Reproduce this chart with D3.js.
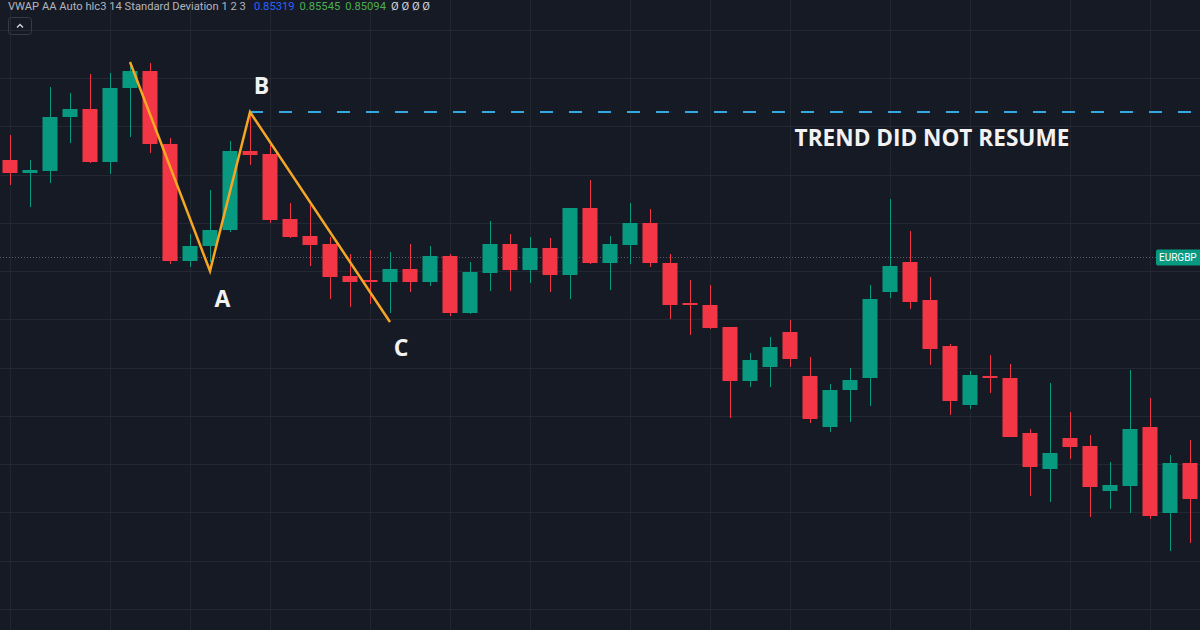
<!DOCTYPE html>
<html><head><meta charset="utf-8">
<script src="https://cdn.jsdelivr.net/npm/d3@7/dist/d3.min.js"></script>
<style>
html,body{margin:0;padding:0;background:#161a25;overflow:hidden;}
svg{display:block;}
</style></head><body>
<svg id="chart" width="1200" height="630"></svg>
<script>
// ---------- DATA ----------
const bars = d3.range(60); // candle index (category)
const opens  = [0.85417,0.85404,0.85406,0.85460,0.85468,0.85415,0.85489,0.85506,0.85433,0.85316,
                0.85331,0.85347,0.85426,0.85423,0.85358,0.85341,0.85333,0.85301,0.85297,0.85295,
                0.85308,0.85295,0.85321,0.85264,0.85304,0.85333,0.85307,0.85329,0.85302,0.85369,
                0.85314,0.85332,0.85354,0.85314,0.85274,0.85272,0.85250,0.85196,0.85210,0.85245,
                0.85201,0.85150,0.85187,0.85199,0.85285,0.85315,0.85277,0.85231,0.85172,0.85201,
                0.85199,0.85144,0.85108,0.85139,0.85131,0.85086,0.85091,0.85150,0.85064,0.85114];
const highs  = [0.85442,0.85417,0.85490,0.85484,0.85503,0.85504,0.85511,0.85514,0.85439,0.85343,
                0.85387,0.85436,0.85464,0.85432,0.85374,0.85372,0.85340,0.85323,0.85327,0.85325,
                0.85333,0.85331,0.85323,0.85315,0.85356,0.85343,0.85340,0.85339,0.85369,0.85397,
                0.85341,0.85374,0.85368,0.85323,0.85297,0.85292,0.85250,0.85224,0.85240,0.85257,
                0.85220,0.85193,0.85209,0.85292,0.85378,0.85346,0.85300,0.85233,0.85206,0.85222,
                0.85213,0.85148,0.85194,0.85165,0.85142,0.85115,0.85207,0.85179,0.85122,0.85137];
const lows   = [0.85392,0.85370,0.85394,0.85434,0.85414,0.85403,0.85440,0.85424,0.85313,0.85310,
                0.85315,0.85345,0.85412,0.85354,0.85339,0.85311,0.85278,0.85270,0.85273,0.85264,
                0.85285,0.85291,0.85261,0.85263,0.85286,0.85286,0.85294,0.85285,0.85278,0.85313,
                0.85287,0.85313,0.85310,0.85258,0.85242,0.85248,0.85159,0.85190,0.85190,0.85210,
                0.85154,0.85145,0.85155,0.85171,0.85279,0.85268,0.85212,0.85162,0.85168,0.85184,
                0.85140,0.85081,0.85075,0.85118,0.85060,0.85068,0.85064,0.85058,0.85026,0.85034];
const closes = [0.85404,0.85407,0.85460,0.85468,0.85415,0.85489,0.85506,0.85433,0.85316,0.85331,
                0.85347,0.85426,0.85422,0.85357,0.85340,0.85332,0.85300,0.85295,0.85295,0.85308,
                0.85295,0.85321,0.85264,0.85305,0.85333,0.85307,0.85329,0.85302,0.85369,0.85314,
                0.85333,0.85354,0.85314,0.85272,0.85272,0.85249,0.85196,0.85217,0.85230,0.85218,
                0.85158,0.85187,0.85197,0.85278,0.85311,0.85275,0.85228,0.85176,0.85202,0.85199,
                0.85140,0.85110,0.85124,0.85130,0.85090,0.85092,0.85148,0.85061,0.85114,0.85078];

// horizontal grid prices and vertical grid bar indices (time ticks)
const gridPrices = [0.85547,0.85499,0.85451,0.85402,0.85354,0.85306,0.85258,0.85209,0.85161,0.85113,0.85065,0.85016,0.84968];
const gridBars = [0,5,9,13,18,22,26,31,35,39,44,48,53,57];

// ABC swing annotation (bar index, price, label)
const swingBars   = [6, 10, 12, 19];
const swingPrices = [0.85515, 0.85306, 0.85465, 0.85255];
const swingLabels = ["", "A", "B", "C"];
const levelPrice = 0.85465;          // B level (dashed)
const levelText = "TREND DID NOT RESUME";
const lastPrice = 0.85320;
const symbol = "EURGBP";

const headerTitle = "VWAP AA Auto hlc3 14 Standard Deviation 1 2 3";
const headerValues = ["0.85319", "0.85545", "0.85094", "Ø Ø Ø Ø"];

// ---------- RENDER ----------
const W = 1200, H = 630;
const svg = d3.select("#chart");
const BG = "#161a25", GRID = "#22262f", UP = "#089981", DOWN = "#f23645";

const x = d3.scaleBand().domain(bars).range([0, W]).paddingInner(0.25).paddingOuter(0.125);
const bw = x.bandwidth();
const xc = i => x(i) + bw / 2;
const y = d3.scaleLinear().domain([0.84947, 0.85577]).range([H, 0]);

svg.append("rect").attr("width", W).attr("height", H).attr("fill", BG);

// grid
svg.append("g").selectAll("line").data(gridBars).join("line")
  .attr("x1", d => Math.round(xc(d)) + 0.5).attr("x2", d => Math.round(xc(d)) + 0.5)
  .attr("y1", 0).attr("y2", H).attr("stroke", GRID).attr("stroke-width", 1);
svg.append("g").selectAll("line").data(gridPrices).join("line")
  .attr("x1", 0).attr("x2", W)
  .attr("y1", d => Math.round(y(d)) + 0.5).attr("y2", d => Math.round(y(d)) + 0.5)
  .attr("stroke", "#242833").attr("stroke-width", 1);

// last price dotted line
svg.append("line")
  .attr("x1", 0).attr("x2", W).attr("y1", Math.round(y(lastPrice)) + 0.5).attr("y2", Math.round(y(lastPrice)) + 0.5)
  .attr("stroke", "#5a5e69").attr("stroke-width", 1).attr("stroke-dasharray", "1,2");

// candles
const candles = svg.append("g").selectAll("g").data(bars).join("g");
const col = i => closes[i] >= opens[i] ? UP : DOWN;
candles.append("line")
  .attr("x1", i => Math.round(xc(i)) + 0.5).attr("x2", i => Math.round(xc(i)) + 0.5)
  .attr("y1", i => y(highs[i])).attr("y2", i => y(lows[i]))
  .attr("stroke", col).attr("stroke-width", 1);
candles.append("rect")
  .attr("x", i => x(i)).attr("width", bw)
  .attr("y", i => y(Math.max(opens[i], closes[i])))
  .attr("height", i => Math.max(1.5, Math.abs(y(opens[i]) - y(closes[i]))))
  .attr("fill", col);

// dashed B level
svg.append("line")
  .attr("x1", xc(swingBars[2])).attr("x2", W)
  .attr("y1", y(levelPrice)).attr("y2", y(levelPrice))
  .attr("stroke", "#33a9e2").attr("stroke-width", 2.2).attr("stroke-dasharray", "13,16");

// swing polyline
const pts = swingBars.map((b, k) => [xc(b), y(swingPrices[k])]);
svg.append("path").attr("d", d3.line()(pts))
  .attr("fill", "none").attr("stroke", "#f5a623").attr("stroke-width", 2.5)
  .attr("stroke-linejoin", "miter").attr("stroke-linecap", "butt");

// swing labels
const labelOffset = { A: [12.5, 35.5], B: [11.5, -18], C: [11, 34] };
svg.append("g").selectAll("text").data(swingBars.map((b, k) => k).filter(k => swingLabels[k]))
  .join("text")
  .attr("x", k => xc(swingBars[k]) + labelOffset[swingLabels[k]][0])
  .attr("y", k => y(swingPrices[k]) + labelOffset[swingLabels[k]][1])
  .attr("text-anchor", "middle")
  .attr("font-family", "'Open Sans', sans-serif").attr("font-weight", 700).attr("font-size", 23)
  .attr("fill", "#f2f2f2")
  .text(k => swingLabels[k]);

svg.append("text")
  .attr("x", xc(46) + 2).attr("y", y(levelPrice) + 34)
  .attr("text-anchor", "middle")
  .attr("font-family", "'Open Sans', sans-serif").attr("font-weight", 700).attr("font-size", 22.6)
  .attr("fill", "#f2f2f2")
  .text(levelText);

// symbol label
const ly = y(lastPrice);
svg.append("rect").attr("x", 1156).attr("y", ly - 7.5).attr("width", 46).attr("height", 16)
  .attr("rx", 2).attr("fill", UP);
svg.append("text").attr("x", 1159).attr("y", ly + 4)
  .attr("font-family", "Roboto, sans-serif").attr("font-size", 10).attr("fill", "#ffffff")
  .text(symbol);

// header
const hdr = svg.append("text").attr("x", 8).attr("y", 9.5)
  .attr("font-family", "Roboto, sans-serif").attr("font-size", 11.2);
hdr.append("tspan").attr("fill", "#b2b5be").text(headerTitle);
const hcols = ["#2962ff", "#4caf50", "#4caf50", "#d1d4dc"];
headerValues.forEach((v, k) => hdr.append("tspan").attr("dx", k === 0 ? 8 : 5).attr("fill", hcols[k]).text(v));

// collapse button
svg.append("rect").attr("x", 8.5).attr("y", 17.5).attr("width", 23).attr("height", 17).attr("rx", 3)
  .attr("fill", "none").attr("stroke", "#363a45");
svg.append("path").attr("d", "M17,27.5 L20,24.5 L23,27.5")
  .attr("fill", "none").attr("stroke", "#d1d4dc").attr("stroke-width", 1.4);
</script>
</body></html>
